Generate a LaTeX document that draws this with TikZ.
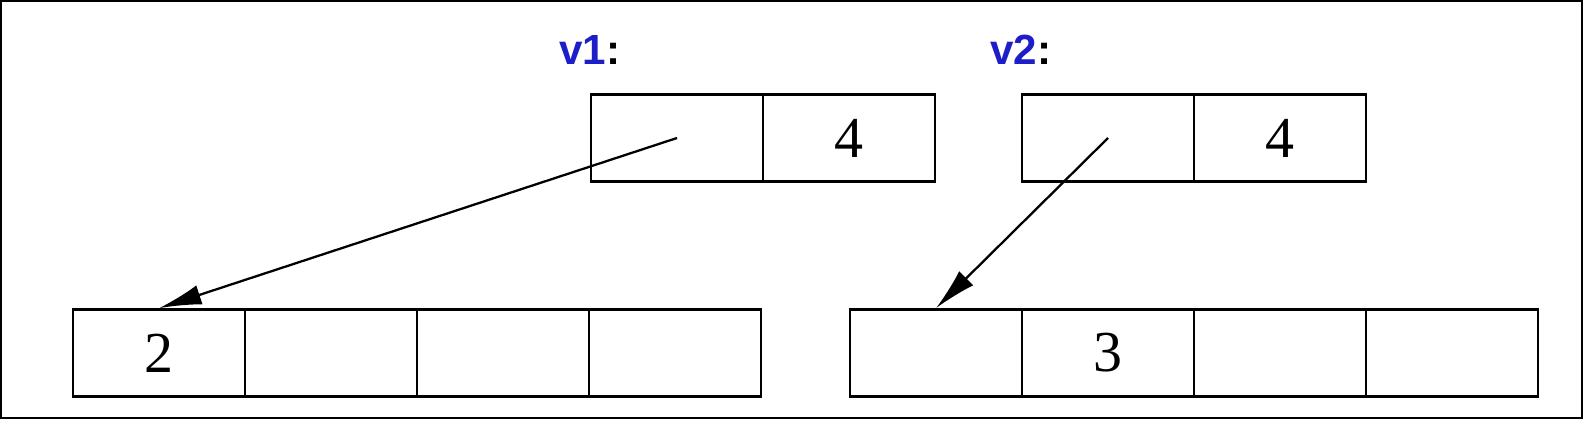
\documentclass[tikz,border=0pt]{standalone}
\usepackage{fontspec}
\setmainfont{Liberation Serif}
\newfontfamily\labelfont{Liberation Sans}
\usetikzlibrary{arrows.meta}
\definecolor{labelblue}{RGB}{30,30,200}

\begin{document}
\begin{tikzpicture}[x=0.02cm,y=-0.02cm,
  cell_node/.style={rectangle,draw,line width=1.5pt,minimum width=3.44cm,minimum height=1.74cm,inner sep=0pt,font=\fontsize{33}{36}\selectfont},
  name_node/.style={inner sep=0pt,font=\labelfont\bfseries\fontsize{24}{26}\selectfont},
  ptr/.style={-{Latex[length=0.85cm,width=0.4cm]},line width=1.3pt}]

		\useasboundingbox (0,0) rectangle (1584,421);
		\draw[line width=1.3pt] (1,1) rectangle (1582,418);

		\node[name_node] (v1) at (590,50) {\textcolor{labelblue}{v1}:};
		\node[name_node] (v2) at (1021,50) {\textcolor{labelblue}{v2}:};

		\node[cell_node] (v1_1) at (677,138) {};
		\node[cell_node] (v1_2) at (849,138) {4};
		\node[cell_node] (v2_1) at (1108,138) {};
		\node[cell_node] (v2_2) at (1280,138) {4};

		\node[cell_node] (a1) at (159,353) {2};
		\node[cell_node] (a2) at (331,353) {};
		\node[cell_node] (a3) at (503,353) {};
		\node[cell_node] (a4) at (675,353) {};

		\node[cell_node] (b1) at (936,353) {};
		\node[cell_node] (b2) at (1108,353) {3};
		\node[cell_node] (b3) at (1280,353) {};
		\node[cell_node] (b4) at (1452,353) {};

		\draw[ptr] (v1_1.center) -- (a1.north);
		\draw[ptr] (v2_1.center) -- (b1.north);
		\end{tikzpicture}
\end{document}
